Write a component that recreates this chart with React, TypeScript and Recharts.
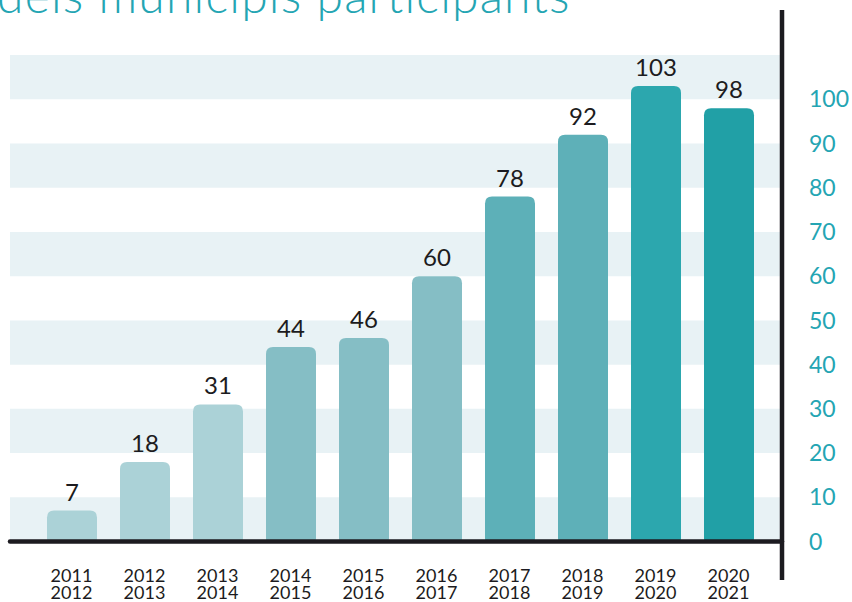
import React from 'react';
import {
  BarChart,
  Bar,
  Cell,
  XAxis,
  YAxis,
  ReferenceArea,
  ReferenceLine,
  LabelList
} from 'recharts';

// Cursos (two-line labels) and number of participating municipalities
const seasons = ['2011-2012', '2012-2013', '2013-2014', '2014-2015', '2015-2016', '2016-2017', '2017-2018', '2018-2019', '2019-2020', '2020-2021'];
const municipis = [7, 18, 31, 44, 46, 60, 78, 92, 103, 98];
const barColors = ['#abd2d7', '#abd2d7', '#abd2d7', '#85bec5', '#85bec5', '#85bec5', '#5db0b8', '#5eb0b8', '#2ca7ae', '#21a0a6'];
const yTicks = [0, 10, 20, 30, 40, 50, 60, 70, 80, 90, 100];
// shaded background bands
const bands = [[0, 10], [20, 30], [40, 50], [60, 70], [80, 90], [100, 110]];

const data = seasons.map((s, i) => ({ name: s, value: municipis[i] }));

const INK = '#1c1b20';
const TEAL = '#24a5b3';
const BAND = '#e8f2f5';
const FONT = 'Lato, "Open Sans", sans-serif';

const RoundedBar = (props: any) => {
  const { x, y, width, height, fill } = props;
  if (!height || height <= 0) return null;
  const rt = 7;
  const rb = 3;
  const b = y + height;
  const d = `M${x},${y + rt} Q${x},${y} ${x + rt},${y} L${x + width - rt},${y} Q${x + width},${y} ${x + width},${y + rt}
    L${x + width},${b - rb} Q${x + width},${b} ${x + width - rb},${b} L${x + rb},${b} Q${x},${b} ${x},${b - rb} Z`;
  return <path d={d} fill={fill} />;
};

const SeasonTick = (props: any) => {
  const { x, y, payload } = props;
  const [a, b] = String(payload.value).split('-');
  return (
    <g>
      <text x={x} y={y + 2} textAnchor="middle" fill={INK} fontSize={18} fontFamily={FONT}>{a}</text>
      <text x={x} y={y + 19} textAnchor="middle" fill={INK} fontSize={18} fontFamily={FONT}>{b}</text>
    </g>
  );
};

const App: React.FC = () => {
  return (
    <div style={{ position: 'absolute', left: 0, top: 0, width: 852, height: 602, background: '#fff', overflow: 'hidden' }}>
      <BarChart
        width={852}
        height={602}
        data={data}
        margin={{ top: 10, right: 0, left: 10, bottom: 0 }}
        barSize={50}
      >
        <XAxis
          dataKey="name"
          axisLine={false}
          tickLine={false}
          tickSize={0}
          tickMargin={0}
          height={22}
          interval={0}
          padding={{ left: 25, right: 17 }}
          tick={<SeasonTick />}
        />
        <XAxis xAxisId="band" dataKey="name" hide />
        <YAxis
          orientation="right"
          type="number"
          domain={[-8.7, 120.2]}
          allowDataOverflow
          ticks={yTicks}
          width={70}
          tickLine={false}
          tickSize={0}
          tickMargin={27}
          axisLine={{ stroke: INK, strokeWidth: 4.5 }}
          tick={{ fill: TEAL, fontSize: 23, fontFamily: FONT }}
        />
        {bands.map(([a, b]) => (
          <ReferenceArea
            key={a}
            xAxisId="band"
            y1={a}
            y2={b}
            fill={BAND}
            fillOpacity={1}
            stroke="none"
            ifOverflow="visible"
          />
        ))}
        <ReferenceLine y={0} stroke={INK} strokeWidth={4.5} strokeLinecap="round" />
        <Bar dataKey="value" shape={<RoundedBar />} isAnimationActive={false}>
          {data.map((d, i) => (
            <Cell key={d.name} fill={barColors[i]} />
          ))}
          <LabelList dataKey="value" position="top" offset={10} fill={INK} fontSize={24} fontFamily={FONT} />
        </Bar>
      </BarChart>
      <svg width={852} height={40} style={{ position: 'absolute', left: 0, top: 0 }}>
        <text x={-3} y={13} fill={TEAL} fontSize={48} fontWeight={300} letterSpacing={1.2} fontFamily={FONT}>
          dels municipis participants
        </text>
      </svg>
    </div>
  );
};

export default App;
